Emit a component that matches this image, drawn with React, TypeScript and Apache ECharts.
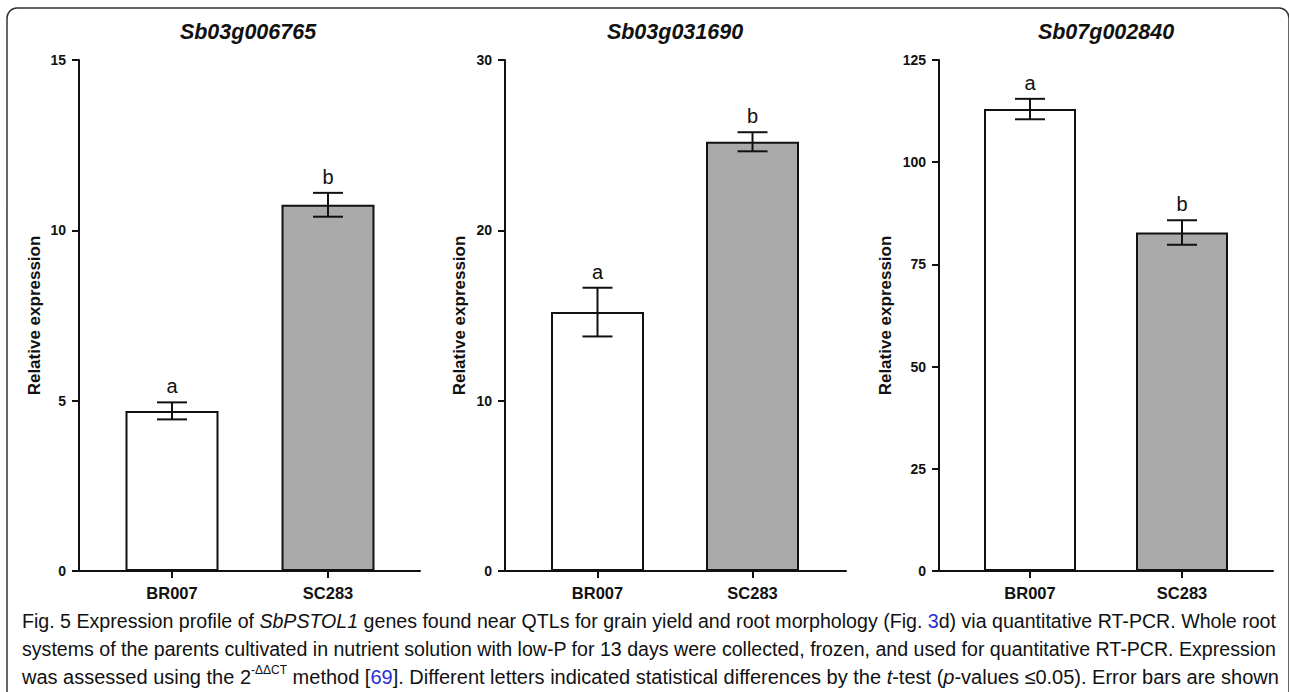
import React, { useEffect, useRef } from 'react';
import * as echarts from 'echarts';

// ---------- data ----------
const categories = ['BR007', 'SC283'];
const geneTitles = ['Sb03g006765', 'Sb03g031690', 'Sb07g002840'];
const panel1Means = [4.7, 10.75];
const panel1Errors = [0.25, 0.35];
const panel2Means = [15.2, 25.2];
const panel2Errors = [1.43, 0.56];
const panel3Means = [113.0, 82.8];
const panel3Errors = [2.5, 3.0];
const panelLetters = [
  ['a', 'b'],
  ['a', 'b'],
  ['a', 'b'],
];
const yMaxes = [15, 30, 125];
const yIntervals = [5, 10, 25];
const yAxisName = 'Relative expression';
const captionLines = [
  'Fig. 5 Expression profile of {i|SbPSTOL1} genes found near QTLs for grain yield and root morphology (Fig. {blue|3}d) via quantitative RT-PCR. Whole root',
  'systems of the parents cultivated in nutrient solution with low-P for 13 days were collected, frozen, and used for quantitative RT-PCR. Expression',
  'was assessed using the 2{sup|-ΔΔCT} method [{blue|69}]. Different letters indicated statistical differences by the {i|t}-test ({i|p}-values ≤0.05). Error bars are shown',
];

const allMeans = [panel1Means, panel2Means, panel3Means];
const allErrors = [panel1Errors, panel2Errors, panel3Errors];

// ---------- layout / style ----------
const layout = [
  { axisX: 79, barLeft: 94, barRight: 406, axisEnd: 420, barWidth: 93, nameGap: 36, titleX: 248 },
  { axisX: 505, barLeft: 520, barRight: 830, axisEnd: 846, barWidth: 93, nameGap: 37, titleX: 675 },
  { axisX: 939, barLeft: 954, barRight: 1258, axisEnd: 1273, barWidth: 92, nameGap: 45, titleX: 1106 },
];
const GRID_TOP = 60;
const GRID_HEIGHT = 511;
const FONT = '"Liberation Sans", Arial, Helvetica, sans-serif';
const INK = '#111111';
const barColors = ['#ffffff', '#aaaaaa'];
const captionY = [621, 649, 677];
const captionSizes = [19.6, 19.6, 20];

export default function App() {
  const ref = useRef<HTMLDivElement>(null);

  useEffect(() => {
    if (!ref.current) return;
    const chart = echarts.init(ref.current, undefined, { renderer: 'svg' });

    const grids: any[] = [];
    const xAxes: any[] = [];
    const yAxes: any[] = [];
    const series: any[] = [];

    layout.forEach((L, p) => {
      const gA = p * 2;
      const gB = p * 2 + 1;
      grids.push({ left: L.barLeft, top: GRID_TOP, width: L.barRight - L.barLeft, height: GRID_HEIGHT });
      grids.push({ left: L.axisX, top: GRID_TOP, width: L.axisEnd - L.axisX, height: GRID_HEIGHT });

      xAxes.push({
        type: 'category',
        gridIndex: gA,
        data: categories,
        axisLine: { show: false },
        axisTick: { show: true, alignWithLabel: true, length: 7, lineStyle: { color: INK, width: 2 } },
        axisLabel: { fontSize: 16.5, fontWeight: 'bold', fontFamily: FONT, color: INK, margin: 13 },
        splitLine: { show: false },
      });
      xAxes.push({
        type: 'category',
        gridIndex: gB,
        data: categories,
        axisLine: { show: true, lineStyle: { color: INK, width: 2 } },
        axisTick: { show: false },
        axisLabel: { show: false },
        splitLine: { show: false },
      });

      yAxes.push({
        type: 'value',
        gridIndex: gA,
        min: 0,
        max: yMaxes[p],
        interval: yIntervals[p],
        offset: L.barLeft - L.axisX,
        axisLine: { show: true, lineStyle: { color: INK, width: 2 } },
        axisTick: { show: true, length: 7, lineStyle: { color: INK, width: 2 } },
        axisLabel: { fontSize: 14, fontWeight: 'bold', fontFamily: FONT, color: INK, margin: 13 },
        splitLine: { show: false },
        name: yAxisName,
        nameLocation: 'middle',
        nameGap: L.nameGap,
        nameTextStyle: { fontSize: 17, fontWeight: 'bold', fontFamily: FONT, color: INK },
      });
      yAxes.push({ type: 'value', gridIndex: gB, min: 0, max: yMaxes[p], show: false });

      const means = allMeans[p];
      const errs = allErrors[p];
      const letters = panelLetters[p];

      series.push({
        type: 'bar',
        xAxisIndex: gA,
        yAxisIndex: gA,
        barWidth: L.barWidth,
        z: 2,
        itemStyle: { borderColor: INK, borderWidth: 2 },
        data: means.map((m, j) => ({ value: m, itemStyle: { color: barColors[j] } })),
      });

      series.push({
        type: 'custom',
        xAxisIndex: gA,
        yAxisIndex: gA,
        z: 3,
        data: means.map((m, j) => [j, m, errs[j]]),
        renderItem: (params: any, api: any) => {
          const idx = api.value(0);
          const m = api.value(1);
          const e = api.value(2);
          const top = api.coord([idx, m + e]);
          const bot = api.coord([idx, m - e]);
          const x = top[0];
          const cap = 15;
          const ls = { stroke: INK, lineWidth: 2 };
          return {
            type: 'group',
            children: [
              { type: 'line', shape: { x1: x, y1: top[1], x2: x, y2: bot[1] }, style: ls },
              { type: 'line', shape: { x1: x - cap, y1: top[1], x2: x + cap, y2: top[1] }, style: ls },
              { type: 'line', shape: { x1: x - cap, y1: bot[1], x2: x + cap, y2: bot[1] }, style: ls },
              {
                type: 'text',
                x: x,
                y: top[1] - 16,
                style: {
                  text: letters[params.dataIndex],
                  fontSize: 20,
                  fontFamily: FONT,
                  fill: INK,
                  align: 'center',
                  verticalAlign: 'middle',
                  textAlign: 'center',
                  textVerticalAlign: 'middle',
                },
              },
            ],
          };
        },
      });
    });

    const graphic: any[] = [
      {
        type: 'rect',
        shape: { x: 7, y: 8, width: 1282, height: 800, r: 10 },
        style: { fill: 'none', stroke: '#333333', lineWidth: 1.5 },
        silent: true,
      },
    ];
    layout.forEach((L, p) => {
      graphic.push({
        type: 'text',
        x: L.titleX,
        y: 32,
        style: {
          text: geneTitles[p],
          fontSize: 21.5,
          fontWeight: 'bold',
          fontStyle: 'italic',
          fontFamily: FONT,
          fill: INK,
          textAlign: 'center',
          textVerticalAlign: 'middle',
        },
      });
    });
    captionLines.forEach((line, k) => {
      const fs = captionSizes[k];
      graphic.push({
        type: 'text',
        x: 22,
        y: captionY[k],
        style: {
          text: line,
          fontSize: fs,
          fontFamily: FONT,
          fill: INK,
          lineHeight: 26,
          textAlign: 'left',
          textVerticalAlign: 'middle',
          rich: {
            i: { fontSize: fs, fontStyle: 'italic', fontFamily: FONT, fill: INK },
            blue: { fontSize: fs, fontFamily: FONT, fill: '#2b2bd9' },
            sup: { fontSize: 12, fontFamily: FONT, fill: INK, verticalAlign: 'top', lineHeight: 12 },
          },
        },
      });
    });

    chart.setOption({
      animation: false,
      backgroundColor: '#ffffff',
      grid: grids,
      xAxis: xAxes,
      yAxis: yAxes,
      series,
      graphic,
    });

    return () => chart.dispose();
  }, []);

  return (
    <div
      ref={ref}
      style={{ position: 'absolute', left: 0, top: 0, width: 1289, height: 692, background: '#fff' }}
    />
  );
}
